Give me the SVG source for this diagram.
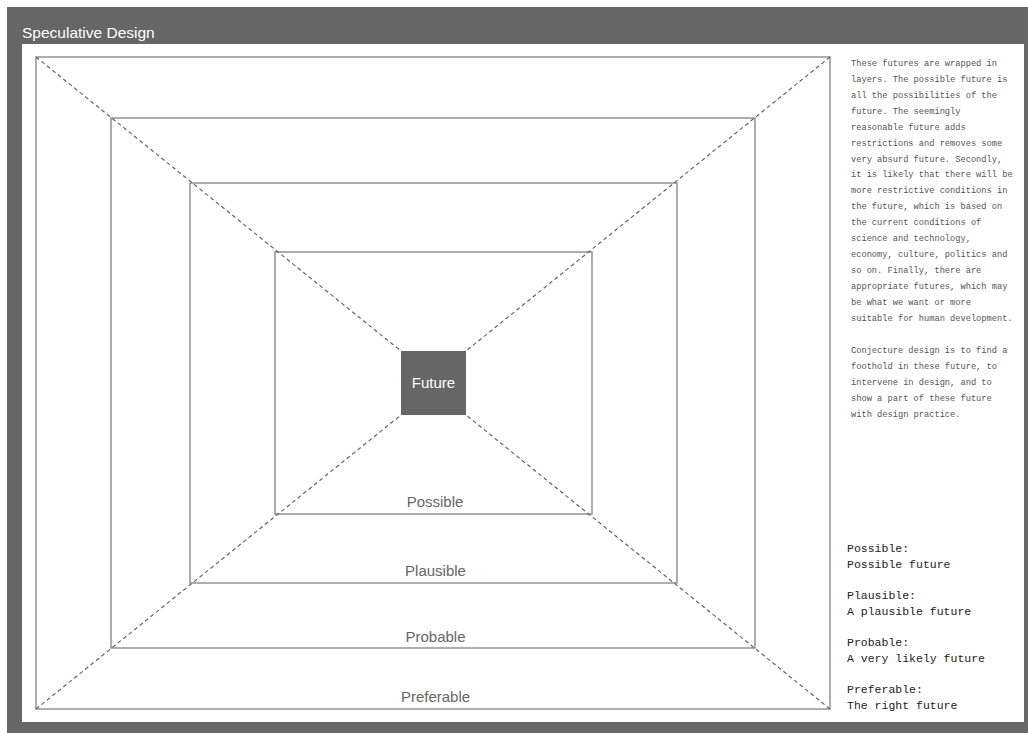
<svg xmlns="http://www.w3.org/2000/svg" width="1028" height="733" viewBox="0 0 1028 733">
<style>
.layer{fill:none;stroke:#8a8a8a;stroke-width:1.4}
.dash{stroke:#666;stroke-width:1.2;stroke-dasharray:4 3;fill:none}
.lbl{font-family:"Liberation Sans",Arial,sans-serif;font-size:15px;fill:#666;text-anchor:middle}
.para{font-family:"Liberation Mono","Courier New",monospace;font-size:8.7px;fill:#555}
.leg{font-family:"Liberation Mono","Courier New",monospace;font-size:11.5px;fill:#222}
</style>
<rect x="0" y="0" width="1028" height="733" fill="#ffffff"/>
<rect x="7" y="7" width="1021" height="726" fill="#666666"/>
<rect x="22" y="44" width="1002" height="678" fill="#ffffff"/>
<text x="22" y="38" font-family="'Liberation Sans',Arial,sans-serif" font-size="15.5" fill="#ffffff">Speculative Design</text>

<g id="preferable"><rect class="layer" x="36" y="57" width="794" height="652"/><text class="lbl" x="435.5" y="702">Preferable</text></g>
<g id="probable"><rect class="layer" x="111" y="118" width="644" height="530"/><text class="lbl" x="435.5" y="642">Probable</text></g>
<g id="plausible"><rect class="layer" x="190" y="183" width="487" height="400"/><text class="lbl" x="435.5" y="576">Plausible</text></g>
<g id="possible"><rect class="layer" x="275" y="252" width="317" height="262"/><text class="lbl" x="435" y="507">Possible</text></g>

<g id="connectors">
<line class="dash" x1="36" y1="57" x2="401" y2="351"/>
<line class="dash" x1="830" y1="57" x2="466" y2="351"/>
<line class="dash" x1="36" y1="709" x2="401" y2="415"/>
<line class="dash" x1="830" y1="709" x2="466" y2="415"/>
</g>

<g id="future"><rect x="401" y="351" width="65" height="64" fill="#666666"/><text x="433.5" y="388" font-family="'Liberation Sans',Arial,sans-serif" font-size="15" fill="#ffffff" text-anchor="middle">Future</text></g>

<g id="description" class="para">
<text x="851" y="66">These futures are wrapped in</text>
<text x="851" y="82">layers. The possible future is</text>
<text x="851" y="98">all the possibilities of the</text>
<text x="851" y="114">future. The seemingly</text>
<text x="851" y="130">reasonable future adds</text>
<text x="851" y="146">restrictions and removes some</text>
<text x="851" y="162">very absurd future. Secondly,</text>
<text x="851" y="177">it is likely that there will be</text>
<text x="851" y="193">more restrictive conditions in</text>
<text x="851" y="209">the future, which is based on</text>
<text x="851" y="225">the current conditions of</text>
<text x="851" y="241">science and technology,</text>
<text x="851" y="257">economy, culture, politics and</text>
<text x="851" y="273">so on. Finally, there are</text>
<text x="851" y="289">appropriate futures, which may</text>
<text x="851" y="305">be what we want or more</text>
<text x="851" y="321">suitable for human development.</text>
<text x="851" y="353">Conjecture design is to find a</text>
<text x="851" y="369">foothold in these future, to</text>
<text x="851" y="385">intervene in design, and to</text>
<text x="851" y="401">show a part of these future</text>
<text x="851" y="417">with design practice.</text>
</g>

<g id="legend" class="leg">
<text x="847" y="552">Possible:</text>
<text x="847" y="568">Possible future</text>
<text x="847" y="599">Plausible:</text>
<text x="847" y="615">A plausible future</text>
<text x="847" y="646">Probable:</text>
<text x="847" y="662">A very likely future</text>
<text x="847" y="693">Preferable:</text>
<text x="847" y="709">The right future</text>
</g>
</svg>
